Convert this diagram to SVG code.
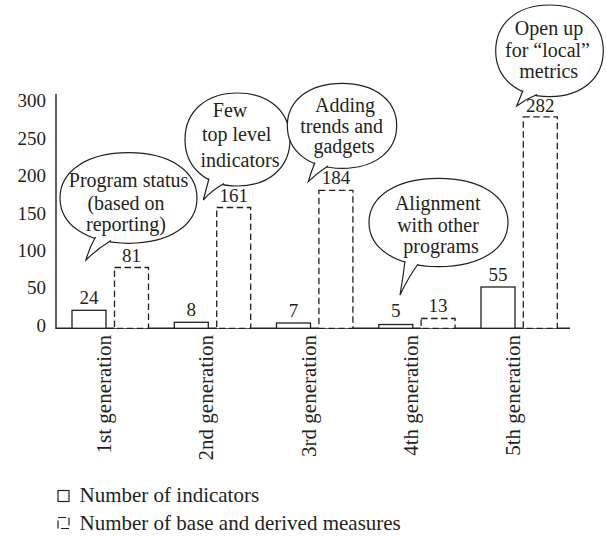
<svg xmlns="http://www.w3.org/2000/svg" width="606" height="537" viewBox="0 0 606 537">
  <style>
    text { font-family: "Liberation Serif", "Times New Roman", Times, Tinos, "Noto Serif", "DejaVu Serif", FreeSerif, serif; fill: #231f20; }
    .tick { font-size: 19px; text-anchor: end; }
    .val { font-size: 19px; text-anchor: middle; }
    .cat { font-size: 21px; text-anchor: end; }
    .note { font-size: 20px; text-anchor: middle; }
    .leg { font-size: 21px; }
    .axis { stroke: #231f20; stroke-width: 1.4; fill: none; }
    .bar { fill: #fff; stroke: #231f20; stroke-width: 1.3; }
    .bar-d { fill: #fff; stroke: #231f20; stroke-width: 1.3; stroke-dasharray: 6.5 3.5; }
    .body { fill: #fff; stroke: #231f20; stroke-width: 1.2; }
    .tail { fill: #fff; stroke: #231f20; stroke-width: 1.2; stroke-linejoin: miter; }
  </style>

  <!-- axes -->
  <g id="axes">
    <path class="axis" d="M56,94 V328.3 H570"/>
    <text class="tick" x="46" y="107.3">300</text>
    <text class="tick" x="46" y="144.7">250</text>
    <text class="tick" x="46" y="182.1">200</text>
    <text class="tick" x="46" y="219.5">150</text>
    <text class="tick" x="46" y="256.9">100</text>
    <text class="tick" x="46" y="294.3">50</text>
    <text class="tick" x="46" y="331.7">0</text>
  </g>

  <!-- bars: solid = indicators, dashed = base and derived measures -->
  <g id="gen1">
    <rect class="bar" x="72" y="310.3" width="34" height="18"/>
    <rect class="bar-d" x="114.5" y="267.5" width="34" height="60.8"/>
    <text class="val" x="89" y="304.3">24</text>
    <text class="val" x="131.5" y="261.5">81</text>
    <text class="cat" transform="translate(111,335) rotate(-90)">1st generation</text>
  </g>
  <g id="gen2">
    <rect class="bar" x="174.3" y="322.3" width="34" height="6"/>
    <rect class="bar-d" x="216.7" y="207.5" width="34" height="120.8"/>
    <text class="val" x="191.3" y="316.3">8</text>
    <text class="val" x="233.7" y="201.5">161</text>
    <text class="cat" transform="translate(213.3,335) rotate(-90)">2nd generation</text>
  </g>
  <g id="gen3">
    <rect class="bar" x="276.5" y="323" width="34" height="5.3"/>
    <rect class="bar-d" x="318.9" y="190.3" width="34" height="138"/>
    <text class="val" x="293.5" y="317">7</text>
    <text class="val" x="335.9" y="184.3">184</text>
    <text class="cat" transform="translate(315.5,335) rotate(-90)">3rd generation</text>
  </g>
  <g id="gen4">
    <rect class="bar" x="378.8" y="324.5" width="34" height="3.8"/>
    <rect class="bar-d" x="421.1" y="318.5" width="34" height="9.8"/>
    <text class="val" x="395.8" y="317">5</text>
    <text class="val" x="438.1" y="312">13</text>
    <text class="cat" transform="translate(417.8,335) rotate(-90)">4th generation</text>
  </g>
  <g id="gen5">
    <rect class="bar" x="481" y="287" width="34" height="41.3"/>
    <rect class="bar-d" x="523.3" y="116.8" width="34" height="211.5"/>
    <text class="val" x="498" y="280.5">55</text>
    <text class="val" x="540.3" y="111.5">282</text>
    <text class="cat" transform="translate(520,335) rotate(-90)">5th generation</text>
  </g>

  <!-- speech-bubble callouts -->
  <g id="note1">
    <path class="body" d="M60,198 C60,170.8 87.4,152.7 128.5,152.7 C169.6,152.7 197,170.8 197,198 C197,225.2 169.6,243.3 128.5,243.3 C87.4,243.3 60,225.2 60,198 Z"/>
    <path class="tail" d="M95.6,237 Q89,248 86,260 Q97,249 111,240.5"/>
    <text class="note" x="128.5" y="187">Program status</text>
    <text class="note" x="126" y="209.5">(based on</text>
    <text class="note" x="126" y="231">reporting)</text>
  </g>
  <g id="note2">
    <path class="body" d="M185,139.5 C185,111.6 206,93 237.5,93 C269,93 290,111.6 290,139.5 C290,167.4 269,186 237.5,186 C206,186 185,167.4 185,139.5 Z"/>
    <path class="tail" d="M209,178.5 Q206,190 203.3,200 Q212,190 224,183.5"/>
    <text class="note" x="230" y="117">Few</text>
    <text class="note" x="236.7" y="140.5">top level</text>
    <text class="note" x="240" y="166.5">indicators</text>
  </g>
  <g id="note3">
    <path class="body" d="M287.3,125.8 C287.3,100.3 309.2,83.3 342,83.3 C374.8,83.3 396.7,100.3 396.7,125.8 C396.7,151.3 374.8,168.3 342,168.3 C309.2,168.3 287.3,151.3 287.3,125.8 Z"/>
    <path class="tail" d="M315,162.5 Q311,172 308.3,181.7 Q317,173 328,166"/>
    <text class="note" x="345" y="111.5">Adding</text>
    <text class="note" x="341.7" y="132.5">trends and</text>
    <text class="note" x="344" y="152.5">gadgets</text>
  </g>
  <g id="note4">
    <path class="body" d="M369,222.5 C369,196 396.8,178.3 438.5,178.3 C480.2,178.3 508,196 508,222.5 C508,249 480.2,266.7 438.5,266.7 C396.8,266.7 369,249 369,222.5 Z"/>
    <path class="tail" d="M405,261 Q403,278 400,295 Q408,278 418,264"/>
    <text class="note" x="437.7" y="210">Alignment</text>
    <text class="note" x="438" y="231.7">with other</text>
    <text class="note" x="441" y="253.3">programs</text>
  </g>
  <g id="note5">
    <path class="body" d="M495.7,50.8 C495.7,23.3 517.2,5 549.5,5 C581.8,5 603.3,23.3 603.3,50.8 C603.3,78.3 581.8,96.6 549.5,96.6 C517.2,96.6 495.7,78.3 495.7,50.8 Z"/>
    <path class="tail" d="M523,90.5 Q520,98 516.7,106 Q526,99 537,94.5"/>
    <text class="note" x="549" y="35">Open up</text>
    <text class="note" x="547.5" y="56.7">for “local”</text>
    <text class="note" x="548.7" y="78.3">metrics</text>
  </g>

  <!-- legend -->
  <g id="legend">
    <rect x="58" y="490.5" width="11" height="11" fill="#fff" stroke="#231f20" stroke-width="1.2"/>
    <text class="leg" x="79.5" y="502.3">Number of indicators</text>
    <rect x="58" y="517.5" width="11" height="11" fill="#fff" stroke="#231f20" stroke-width="1.2" stroke-dasharray="8 3"/>
    <text class="leg" x="79.5" y="530">Number of base and derived measures</text>
  </g>
</svg>
